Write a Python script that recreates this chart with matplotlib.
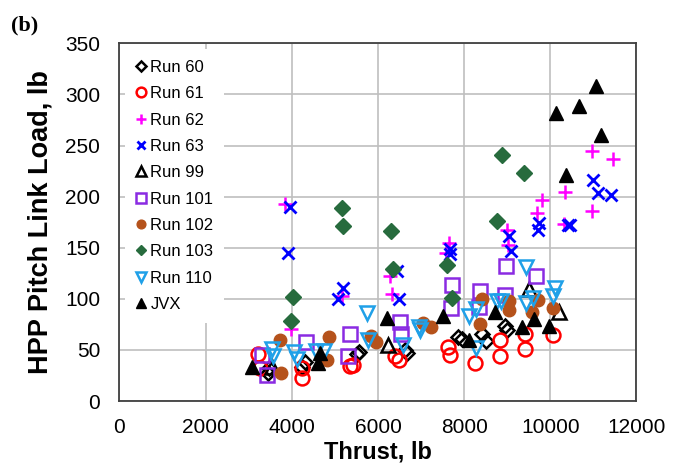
import matplotlib.pyplot as plt

# thrust (lb) / pitch link load (lb)
run60_x = [3456, 3480, 4232, 4309, 5510, 5560, 6620, 6680, 7850, 7950, 8413, 8510, 8955, 8993]
run60_y = [27, 32, 33, 38, 46, 48, 50, 47, 63, 61, 66, 59, 73, 69]

run61_x = [3210, 3264, 4232, 4240, 5354, 5431, 6390, 6490, 7630, 7677, 8250, 8839, 8839, 9410, 9410, 10058]
run61_y = [46, 32, 32, 23, 34, 35, 44, 40, 53, 45, 37, 60, 44, 66, 51, 65]

run62_x = [3844, 3976, 5160, 6283, 6337, 7577, 7638, 8994, 9024, 9690, 9798, 10309, 10348, 10968, 10968, 11456]
run62_y = [193, 70, 103, 122, 105, 145, 155, 167, 153, 184, 197, 173, 205, 245, 186, 237]

run63_x = [3907, 3960, 5083, 5184, 6438, 6477, 7661, 7677, 9032, 9094, 9706, 9745, 10403, 10465, 10991, 11099, 11410]
run63_y = [145, 190, 100, 111, 127, 100, 149, 144, 161, 147, 167, 174, 172, 172, 216, 204, 202]

run99_x = [3550, 6230, 9500, 10193]
run99_y = [33, 55, 110, 87]

run101_x = [3302, 3433, 4332, 5315, 5354, 6515, 6530, 7700, 7716, 8335, 8374, 8939, 8971, 9675]
run101_y = [45, 25, 58, 44, 66, 77, 66, 91, 114, 92, 108, 104, 132, 122]

run102_x = [3728, 3751, 4813, 4866, 5840, 5945, 7057, 7225, 8374, 8420, 9032, 9050, 9575, 9710, 10070]
run102_y = [60, 27, 40, 63, 64, 58, 76, 72, 75, 100, 98, 89, 87, 99, 91]

run103_x = [3975, 4030, 5176, 5199, 6307, 6360, 7600, 7716, 8769, 8885, 9389]
run103_y = [78, 102, 189, 171, 166, 129, 133, 101, 176, 241, 223]

run110_x = [3535, 3565, 4040, 4110, 4560, 4750, 5735, 5780, 6578, 6950, 6985, 8110, 8265, 8265,
            8762, 8855, 9440, 9430, 9600, 10060, 10116]
run110_y = [51, 44, 48, 41, 49, 49, 86, 60, 55, 72, 69, 83, 90, 52, 98, 98, 131, 96, 101, 103, 111]

jvx_x = [3070, 4600, 4660, 6220, 7520, 8115, 8722, 9342, 9620, 9961, 10132, 10365, 10674, 11069, 11177]
jvx_y = [33, 37, 47, 81, 83, 60, 87, 72, 80, 73, 282, 221, 289, 308, 260]

plt.rcParams['font.family'] = 'Liberation Sans'

fig = plt.figure(figsize=(6.82, 4.71), dpi=100)
ax = fig.add_axes([0.1752, 0.1486, 0.758, 0.7594])

ax.plot(run60_x, run60_y, ls='none', marker='D', ms=7.5, mfc='none', mec='black', mew=1.8, label='Run 60')
ax.plot(run61_x, run61_y, ls='none', marker='o', ms=10, mfc='none', mec='#ff0000', mew=1.8, label='Run 61')
ax.plot(run62_x, run62_y, ls='none', marker='+', ms=10, mec='#ff00ff', mew=1.8, label='Run 62')
ax.plot(run63_x, run63_y, ls='none', marker='x', ms=8, mec='#0000ff', mew=2, label='Run 63')
ax.plot(run99_x, run99_y, ls='none', marker='^', ms=10, mfc='none', mec='black', mew=1.8, label='Run 99')
ax.plot(run101_x, run101_y, ls='none', marker='s', ms=9.5, mfc='none', mec='#8a2be2', mew=1.8, label='Run 101')
ax.plot(run102_x, run102_y, ls='none', marker='o', ms=9, mfc='#b5521b', mec='#b5521b', label='Run 102')
ax.plot(run103_x, run103_y, ls='none', marker='D', ms=8, mfc='#276b3d', mec='#276b3d', label='Run 103')
ax.plot(run110_x, run110_y, ls='none', marker='v', ms=10, mfc='none', mec='#1fa0e8', mew=1.8, label='Run 110')
ax.plot(jvx_x, jvx_y, ls='none', marker='^', ms=10, mfc='black', mec='black', label='JVX')

ax.set_xlim(0, 12000)
ax.set_ylim(0, 350)
ax.set_xticks(range(0, 12001, 2000))
ax.set_yticks(range(0, 351, 50))
ax.grid(True, color='#bfbfbf', lw=1.2)
ax.set_axisbelow(True)
ax.tick_params(length=0, labelsize=15)
ax.tick_params(axis='y', pad=14)
ax.tick_params(axis='x', pad=12)
for s in ax.spines.values():
    s.set_color('#404040')
    s.set_linewidth(1.3)

ax.set_xlabel('Thrust, lb', fontsize=17, fontweight='bold', labelpad=3)
ax.set_ylabel('HPP Pitch Link Load, lb', fontsize=19.5, fontweight='bold', labelpad=8)

leg = ax.legend(loc='upper left', frameon=True, fontsize=12, markerscale=0.7,
                handlelength=0.6, handletextpad=0.25, labelspacing=0.68,
                borderaxespad=0.35, borderpad=0.65)
leg.get_frame().set_edgecolor('none')
leg.get_frame().set_facecolor('white')
leg.get_frame().set_alpha(1)

fig.text(0.016, 0.935, '(b)', fontsize=16, fontweight='bold', family='Liberation Serif')

fig.savefig('out.png', dpi=100)
